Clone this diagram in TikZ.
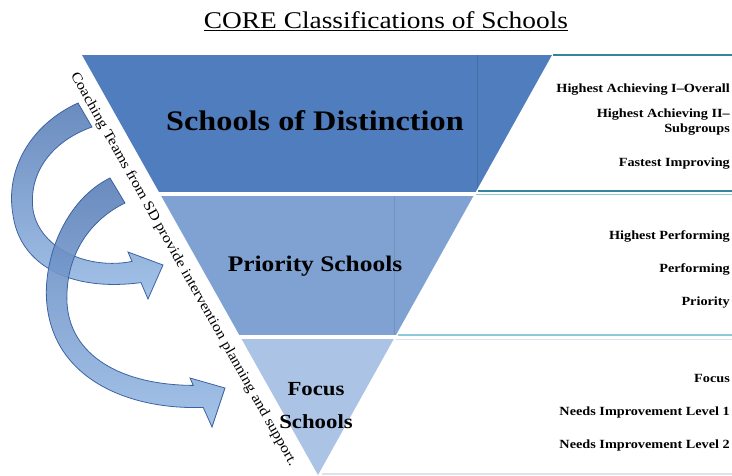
\documentclass[tikz,border=0pt]{standalone}
\usepackage{fontspec}
\setmainfont{Liberation Serif}[FakeStretch=1.14]
\usetikzlibrary{calc}
\definecolor{coreblue}{HTML}{507DBE}
\definecolor{coremid}{HTML}{7FA2D3}
\definecolor{corelight}{HTML}{ABC4E6}
\definecolor{coreteal}{HTML}{31859C}
\definecolor{coreaqua}{HTML}{8CCAD8}
\definecolor{coregrey}{HTML}{DCE3EA}
\definecolor{arrowdark}{HTML}{5A7FB8}
\definecolor{arrowlight}{HTML}{9ABCE6}
\definecolor{arrowedge}{HTML}{3D62A2}

\begin{document}
\begin{tikzpicture}[x=1pt,y=-1pt]
  \useasboundingbox (0,0) rectangle (732,476);
  % title
  \node[font=\fontsize{24}{28}\selectfont] (title) at (386,21) {\underline{CORE Classifications of Schools}};
  % triangle
  \coordinate (tl) at (82,55);
  \coordinate (tr) at (552,55);
  \coordinate (apex) at (318,475);
  \begin{scope}
    \clip (tl) -- (tr) -- (apex) -- cycle;
    \fill[coreblue] (0,55) rectangle (732,192);
    \fill[coremid] (0,196.5) rectangle (732,335);
    \fill[corelight] (0,339) rectangle (732,476);
    \draw[black, opacity=0.12, line width=1] (477,55) -- (477,192);
    \draw[black, opacity=0.10, line width=1] (394,196.5) -- (394,335);
  \end{scope}
  % rules on the right
  \draw[coreteal, line width=2] (553,55.5) -- (732,55.5);
  \draw[coreteal, line width=2.5] (478,191) -- (732,191);
  \draw[coreaqua, line width=1.5] (476,194.5) -- (732,194.5);
  \draw[coreaqua, line width=2] (398,334.5) -- (732,334.5);
  \draw[coregrey, line width=1.5] (396,339.5) -- (732,339.5);
  \draw[coregrey, line width=2] (322,474) -- (732,474);
  % band labels
  \node[font=\bfseries\fontsize{28.3}{32}\selectfont] (dist) at (315,121) {Schools of Distinction};
  \node[font=\bfseries\fontsize{22.3}{24}\selectfont] (prio) at (315,266) {Priority Schools};
  \node[font=\bfseries\fontsize{20}{33}\selectfont, align=center] (focus) at (316,406) {Focus\\Schools};
  % classifications
  \foreach \n/\y/\txt in {ha1/90/{Highest Achieving I--Overall},
      ha2/115/{Highest Achieving II--}, sub/130/Subgroups, fi/164/{Fastest Improving},
      hp/236/{Highest Performing}, pf/269/Performing, pr/303/Priority,
      fc/378/Focus, ni1/412/{Needs Improvement Level 1}, ni2/445/{Needs Improvement Level 2}}
    \node[anchor=east, font=\bfseries\fontsize{12.5}{14}\selectfont, inner sep=1pt] (\n) at (731,\y) {\txt};
  % coaching arrows
  \draw[arrowedge, line width=0.8, top color=arrowdark, bottom color=arrowlight, fill opacity=0.9]
    (78,103) .. controls (30,125) and (5,170) .. (13,215)
    .. controls (20,265) and (70,292) .. (141,282.6)
    -- (148,299) -- (163,265) -- (128,252) -- (132,261.4)
    .. controls (90,270) and (40,250) .. (33,210)
    .. controls (28,170) and (55,140) .. (92,127) -- cycle;
  \draw[arrowedge, line width=0.8, top color=arrowdark, bottom color=arrowlight, fill opacity=0.9]
    (110,178) .. controls (65,200) and (42,260) .. (47,305)
    .. controls (55,380) and (130,410) .. (203.2,407.4)
    -- (212,427) -- (225,388) -- (190,378) -- (193.3,385.4)
    .. controls (120,385) and (70,355) .. (67,303)
    .. controls (65,255) and (90,220) .. (125,203) -- cycle;
  \node[rotate=-60.7, font=\fontsize{14.2}{16}\selectfont, inner sep=0pt] (coach) at (183.5,269.5)
    {Coaching Teams from SD provide intervention planning and support.};
\end{tikzpicture}
\end{document}
